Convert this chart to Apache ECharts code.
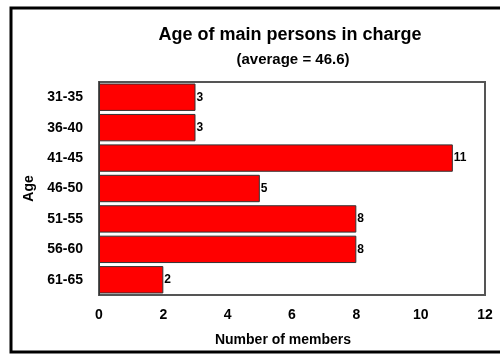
<!DOCTYPE html>
<html>
<head>
<meta charset="utf-8">
<script src="https://cdn.jsdelivr.net/npm/echarts@6/dist/echarts.min.js"></script>
<style>
  html, body { margin: 0; padding: 0; background: #fff; }
  #chart { width: 500px; height: 356px; }
</style>
</head>
<body>
<div id="chart"></div>
<script>
const ageGroups = ['31-35', '36-40', '41-45', '46-50', '51-55', '56-60', '61-65']
const members = [3, 3, 11, 5, 8, 8, 2]
const xTicks = [0, 2, 4, 6, 8, 10, 12]

const font = 'Liberation Sans, Arial, sans-serif'
const chart = echarts.init(document.getElementById('chart'))

chart.setOption({
  animation: false,
  textStyle: { fontFamily: font },
  title: [{
    text: 'Age of main persons in charge',
    left: 285,
    top: 21,
    textAlign: 'center',
    textStyle: { fontSize: 18, fontWeight: 'bold', color: '#000', fontFamily: font }
  }, {
    text: '(average = 46.6)',
    left: 288,
    top: 47,
    textAlign: 'center',
    textStyle: { fontSize: 15, fontWeight: 'bold', color: '#000', fontFamily: font }
  }],
  graphic: [{
    type: 'rect',
    shape: { x: 11, y: 8, width: 520, height: 344 },
    style: { fill: 'none', stroke: '#000', lineWidth: 3 },
    silent: true
  }],
  grid: {
    left: 99,
    right: 15,
    top: 82,
    bottom: 61,
    show: true,
    borderColor: '#555',
    borderWidth: 2
  },
  xAxis: {
    type: 'value',
    min: xTicks[0],
    max: xTicks[xTicks.length - 1],
    interval: 2,
    name: 'Number of members',
    nameLocation: 'middle',
    nameGap: 38,
    nameTextStyle: { fontSize: 14, fontWeight: 'bold', color: '#000', padding: [0, 18, 0, 0] },
    axisLine: { show: false },
    axisTick: { show: false },
    splitLine: { show: false },
    axisLabel: { fontSize: 14, fontWeight: 'bold', color: '#000', margin: 13 }
  },
  yAxis: {
    type: 'category',
    data: ageGroups,
    inverse: true,
    name: 'Age',
    nameLocation: 'middle',
    nameGap: 59,
    nameRotate: 90,
    nameTextStyle: { fontSize: 14, fontWeight: 'bold', color: '#000' },
    axisLine: { show: true, lineStyle: { color: '#333', width: 1 } },
    axisTick: { show: false },
    axisLabel: { fontSize: 14, fontWeight: 'bold', color: '#000', margin: 16 }
  },
  series: [{
    type: 'bar',
    data: members,
    barCategoryGap: '10%',
    itemStyle: { color: '#ff0000', borderColor: '#333', borderWidth: 1 },
    label: {
      show: true,
      position: 'right',
      distance: 1,
      fontSize: 12,
      fontWeight: 'bold',
      color: '#000'
    }
  }]
})
</script>
</body>
</html>
